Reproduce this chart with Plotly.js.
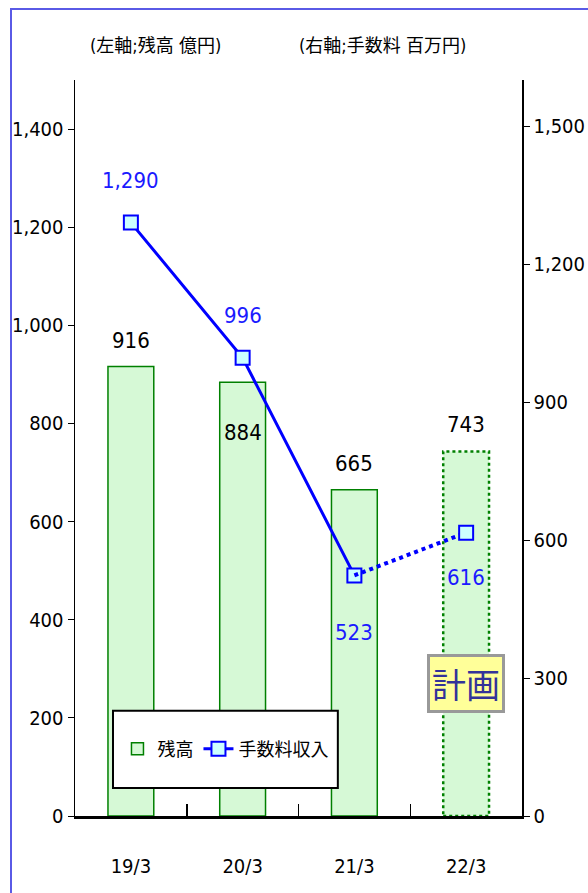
<!DOCTYPE html>
<html><head><meta charset="utf-8">
<script src="https://cdn.plot.ly/plotly-3.0.1.min.js"></script>
<style>
html,body{margin:0;padding:0;overflow:hidden;background:#fff;}
#frame{position:absolute;left:10px;top:8px;width:700px;height:1000px;border-left:2px solid #5a5ae6;border-top:2px solid #5a5ae6;pointer-events:none;}
#chart{position:absolute;left:0;top:0;width:588px;height:893px;}
</style></head>
<body>
<div id="chart"></div>
<div id="frame"></div>
<script>
// ---- data ----
const categories = ['19/3', '20/3', '21/3', '22/3'];
const balance = [916, 884, 665, 743];      // 残高 (億円, left axis)
const fees = [1290, 996, 523, 616];        // 手数料収入 (百万円, right axis)
const planIndex = 3;                        // 22/3 is plan (計画)

// ---- styles ----
const FONT = 'DejaVu Sans Condensed, Liberation Sans Narrow, Noto Sans CJK JP, sans-serif';
const barWidth = 0.41;
const barLabelShift = [12, -36, 12, 12];       // px, label offsets (style)
const barLabelAnchor = ['bottom', 'top', 'bottom', 'bottom'];
const feeLabelShift = [28, 28, -43, -30];
const feeLabelAnchor = ['bottom', 'bottom', 'top', 'top'];

const actualIdx = [0, 1, 2];
const planIdx = [2, 3];

const traces = [
  {
    type: 'bar', name: '残高',
    x: categories, y: balance,
    width: barWidth,
    marker: {
      color: '#d6f9d6',
      line: { color: '#008000', width: balance.map((v, i) => i === planIndex ? 0 : 1.5) }
    },
    hoverinfo: 'skip'
  },
  {
    type: 'scatter', mode: 'lines+markers', name: '手数料収入',
    x: actualIdx.map(i => categories[i]), y: actualIdx.map(i => fees[i]),
    yaxis: 'y2',
    line: { color: '#0000ff', width: 3 },
    marker: { symbol: 'square', size: 14, color: '#ccffff', line: { color: '#0000ff', width: 2 } },
    hoverinfo: 'skip'
  },
  {
    type: 'scatter', mode: 'lines', name: '手数料収入(計画)', showlegend: false,
    x: planIdx.map(i => categories[i]), y: planIdx.map(i => fees[i]),
    yaxis: 'y2',
    line: { color: '#0000ff', width: 4, dash: 'dot' },
    hoverinfo: 'skip'
  },
  {
    type: 'scatter', mode: 'markers', showlegend: false,
    x: [categories[planIndex]], y: [fees[planIndex]],
    yaxis: 'y2',
    marker: { symbol: 'square', size: 14, color: '#ccffff', line: { color: '#0000ff', width: 2 } },
    hoverinfo: 'skip'
  }
];

const annotations = [];
balance.forEach((v, i) => {
  annotations.push({
    x: categories[i], y: v, xref: 'x', yref: 'y',
    text: v.toLocaleString('en-US'), showarrow: false,
    xanchor: 'center', yanchor: barLabelAnchor[i], yshift: barLabelShift[i],
    font: { family: FONT, size: 22, color: '#000' }
  });
});
fees.forEach((v, i) => {
  annotations.push({
    x: categories[i], y: v, xref: 'x', yref: 'y2',
    text: v.toLocaleString('en-US'), showarrow: false,
    xanchor: 'center', yanchor: feeLabelAnchor[i], yshift: feeLabelShift[i],
    font: { family: FONT, size: 22, color: '#1a1aff' }
  });
});
annotations.push(
  { xref: 'paper', yref: 'paper', x: 0.179, y: 1.047, xanchor: 'center', yanchor: 'middle',
    text: '(左軸;残高 億円)', showarrow: false,
    font: { family: FONT, size: 18, color: '#000' } },
  { xref: 'paper', yref: 'paper', x: 0.689, y: 1.047, xanchor: 'center', yanchor: 'middle',
    text: '(右軸;手数料 百万円)', showarrow: false,
    font: { family: FONT, size: 18, color: '#000' } },
  { xref: 'paper', yref: 'paper', x: 0.875, y: 0.18, xanchor: 'center', yanchor: 'middle',
    text: '計画', showarrow: false,
    font: { family: 'Noto Sans CJK JP, sans-serif', size: 34, color: '#333399' },
    bgcolor: '#ffff99', bordercolor: '#999999', borderwidth: 3, borderpad: 2 }
);

const shapes = [
  { type: 'rect', xref: 'x', yref: 'y',
    x0: planIndex - barWidth / 2, x1: planIndex + barWidth / 2, y0: 0, y1: balance[planIndex],
    line: { color: '#008000', width: 2.5, dash: 'dot' }, layer: 'above' },
  { type: 'rect', xref: 'paper', yref: 'paper', x0: 0.085, x1: 0.588, y0: 0.038, y1: 0.143,
    fillcolor: '#ffffff', line: { color: '#000', width: 2 }, layer: 'above' }
];

const layout = {
  width: 588, height: 893,
  margin: { l: 75, r: 66, t: 80, b: 77 },
  paper_bgcolor: '#fff', plot_bgcolor: '#fff',
  font: { family: FONT, size: 20, color: '#000' },
  showlegend: true,
  legend: {
    orientation: 'h', x: 0.095, y: 0.091, xanchor: 'left', yanchor: 'middle',
    bgcolor: 'rgba(0,0,0,0)', borderwidth: 0,
    font: { family: FONT, size: 18, color: '#000' }
  },
  xaxis: {
    type: 'category', categoryorder: 'array', categoryarray: categories,
    range: [-0.5, 3.5],
    tickson: 'boundaries', ticks: 'inside', ticklen: 12, tickwidth: 1.5, tickcolor: '#000',
    showline: true, linecolor: '#000', linewidth: 3,
    showgrid: false, zeroline: false,
    ticklabelstandoff: 30,
    tickfont: { family: FONT, size: 20 }
  },
  yaxis: {
    range: [0, 1500], dtick: 200, tickformat: ',d',
    ticks: 'outside', ticklen: 6, tickcolor: '#000',
    showline: true, linecolor: '#000', linewidth: 1.5,
    showgrid: false, zeroline: false,
    tickfont: { family: FONT, size: 20 }
  },
  yaxis2: {
    overlaying: 'y', side: 'right',
    range: [0, 1600], dtick: 300, tickformat: ',d',
    ticks: 'outside', ticklen: 6, tickcolor: '#000',
    showline: true, linecolor: '#000', linewidth: 1.5,
    showgrid: false, zeroline: false,
    tickfont: { family: FONT, size: 20 }
  },
  annotations: annotations,
  shapes: shapes
};

Plotly.newPlot('chart', traces, layout, { staticPlot: true });
</script>
</body></html>
